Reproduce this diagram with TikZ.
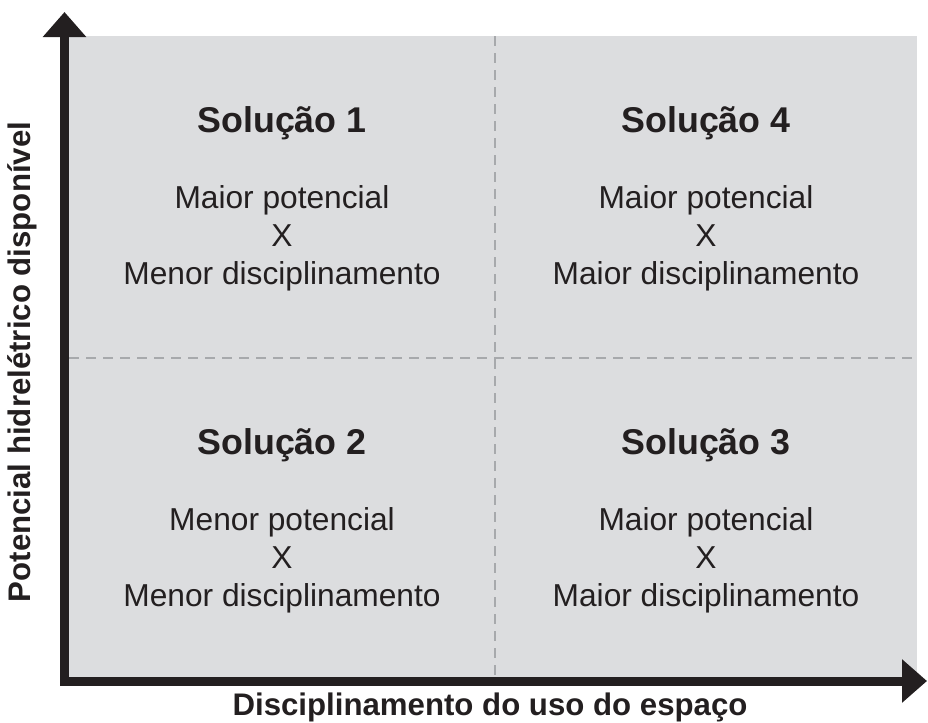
\documentclass[tikz,border=0pt]{standalone}
\usepackage{fontspec}
\setmainfont{Liberation Sans}
\usetikzlibrary{arrows.meta}
\definecolor{axisblack}{HTML}{231F20}
\definecolor{panelgrey}{HTML}{DCDDDF}
\definecolor{dashgrey}{HTML}{A7A9AC}
\tikzset{
  soltitle/.style={anchor=base,font=\bfseries\fontsize{17.9}{21}\selectfont,text=axisblack},
  solline/.style={anchor=base,font=\fontsize{15.85}{19}\selectfont,text=axisblack},
  axislabel/.style={font=\bfseries\fontsize{15.6}{19}\selectfont,text=axisblack}
}
\newcommand\solbox[6]{%
  \node[soltitle] (#1) at (#2, #3-65) {#4};
  \node[solline] (#1a) at (#2, #3+11) {#5};
  \node[solline] (#1x) at (#2, #3+49) {X};
  \node[solline] (#1b) at (#2, #3+87) {#6}
}

\begin{document}
\begin{tikzpicture}[x=0.5pt,y=-0.5pt]
        \useasboundingbox (0,0) rectangle (928,723);
        % The panel
        \fill[panelgrey] (69,36) rectangle (917,677);
        \draw[dashgrey,line width=1pt,dash pattern=on 5pt off 3.5pt] (495,36) -- (495,677);
        \draw[dashgrey,line width=1pt,dash pattern=on 5pt off 3.5pt] (69,358) -- (917,358);

        % The solutions
        \solbox{sol1}{282}{197}{Solução 1}{Maior potencial}{Menor disciplinamento};
        \solbox{sol4}{706}{197}{Solução 4}{Maior potencial}{Maior disciplinamento};
        \solbox{sol2}{282}{519}{Solução 2}{Menor potencial}{Menor disciplinamento};
        \solbox{sol3}{706}{519}{Solução 3}{Maior potencial}{Maior disciplinamento};

        % The axes
        \coordinate (origin) at (64.5,681);
        \coordinate (ytip) at (64.5,12);
        \coordinate (xtip) at (927,681);
        \draw[axisblack,line width=4.5pt,line join=miter,
              {Triangle[length=12.5pt,width=21pt]}-{Triangle[length=12.5pt,width=21pt]}]
              (ytip) -- (origin) -- (xtip);
        \node[axislabel] (xlabel) at (490,707) {Disciplinamento do uso do espaço};
        \node[axislabel,rotate=90] (ylabel) at (22,362) {Potencial hidrelétrico disponível};
    \end{tikzpicture}
\end{document}
